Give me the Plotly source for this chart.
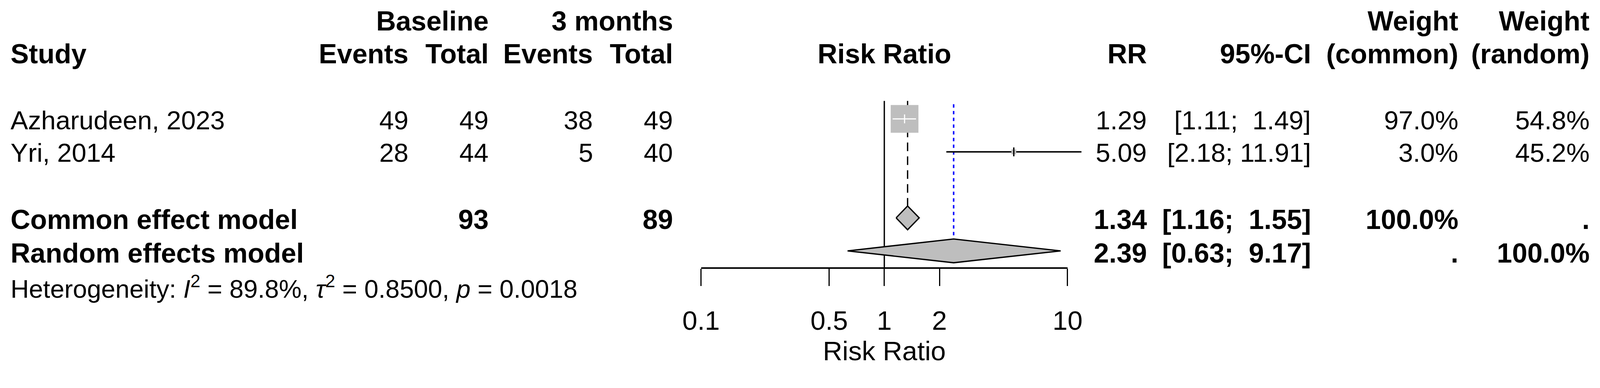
import numpy as np
import plotly.graph_objects as go

# ---------------- data ----------------
studies = ["Azharudeen, 2023", "Yri, 2014"]
base_events = [49, 28]
base_total = [49, 44]
m3_events = [38, 5]
m3_total = [49, 40]
rr = [1.29, 5.09]
ci_lo = [1.11, 2.18]
ci_hi = [1.49, 11.91]
w_common = [97.0, 3.0]
w_random = [54.8, 45.2]

common_label = "Common effect model"
random_label = "Random effects model"
common_est = [1.34, 1.16, 1.55]
random_est = [2.39, 0.63, 9.17]
total_base = 93
total_m3 = 89
het_i2 = "89.8%"
het_tau2 = "0.8500"
het_p = "0.0018"

tick_vals = [0.1, 0.5, 1, 2, 10]
tick_text = ["0.1", "0.5", "1", "2", "10"]

# ---------------- layout geometry (reference pixel units) ----------------
W, H = 4270, 993                  # reference picture size
CSS_W = 4096                      # browser viewport width in CSS px
K = CSS_W / W                     # CSS px per reference px
CSS_H = round(H * K)
X01, DEC = 1871.0, 489.0          # pixel of RR=0.1 and pixels per decade
Y0, RH = 53.0, 88.0               # pixel of row 0 and row height
AXIS_PX = 714.0                   # pixel row of the RR axis line

def prow(px):
    return (px - Y0) / RH

def s(v):
    return v * K

study_rows = [3, 4]
common_row, random_row = 6, 7
FONT = "Liberation Sans, Arial, sans-serif"
GREY = "#BEBEBE"
LW = s(3.5)

fig = go.Figure()

# reference line at RR = 1
fig.add_trace(go.Scatter(x=[1, 1], y=[prow(269), prow(AXIS_PX)], mode="lines",
                         line=dict(color="black", width=LW), hoverinfo="skip"))
# common effect dashed line
fig.add_trace(go.Scatter(x=[common_est[0]] * 2, y=[prow(269), common_row - 0.36], mode="lines",
                         line=dict(color="black", width=LW, dash=f"{s(23):.1f}px,{s(14):.1f}px"),
                         hoverinfo="skip"))
# random effects dotted blue line
fig.add_trace(go.Scatter(x=[random_est[0]] * 2, y=[prow(278), random_row - 0.36], mode="lines",
                         line=dict(color="#0000FF", width=s(4), dash=f"{s(9):.1f}px,{s(9):.1f}px"),
                         hoverinfo="skip"))

# study squares + CIs
for i in range(len(studies)):
    r = study_rows[i]
    side = 74 * np.sqrt(w_common[i] / max(w_common))
    inside = side >= 40
    if not inside:
        fig.add_trace(go.Scatter(x=[ci_lo[i], ci_hi[i]], y=[r, r], mode="lines",
                                 line=dict(color="black", width=s(4)), hoverinfo="skip"))
    fig.add_trace(go.Scatter(x=[rr[i]], y=[r], mode="markers",
                             marker=dict(symbol="square", size=s(side), color=GREY,
                                         line=dict(width=0)), hoverinfo="skip"))
    col = "white" if inside else "black"
    if inside:
        fig.add_trace(go.Scatter(x=[ci_lo[i], ci_hi[i]], y=[r, r], mode="lines",
                                 line=dict(color=col, width=s(3)), hoverinfo="skip"))
    fig.add_trace(go.Scatter(x=[rr[i], rr[i]], y=[r - 0.135, r + 0.135], mode="lines",
                             line=dict(color=col, width=s(3) if inside else LW), hoverinfo="skip"))

# diamonds
for est, row in [(common_est, common_row), (random_est, random_row)]:
    m, lo, hi = est
    fig.add_trace(go.Scatter(x=[lo, m, hi, m, lo], y=[row, row - 0.36, row, row + 0.36, row],
                             mode="lines", fill="toself", fillcolor=GREY,
                             line=dict(color="black", width=LW), hoverinfo="skip"))

# ---------------- text table ----------------
ann = []
def txt(px_x, row, t, bold=False, anchor="right", size=70):
    if bold:
        t = "<b>" + t + "</b>"
        size = 73
    ann.append(dict(x=px_x / W, xref="paper", y=row, yref="y", text=t, showarrow=False,
                    xanchor=anchor, yanchor="middle", borderpad=0,
                    font=dict(family=FONT, size=s(size), color="black")))

C_STUDY, C_E1, C_T1, C_E2, C_T2 = 27, 1091, 1305, 1584, 1797
C_RR, C_CI, C_WC, C_WR = 3062, 3500, 3893, 4243
C_PLOT = X01 + DEC

h0, h1 = prow(56), prow(144)
txt(C_T1, h0, "Baseline", True)
txt(C_T2, h0, "3 months", True)
txt(C_WC, h0, "Weight", True)
txt(C_WR, h0, "Weight", True)
txt(C_STUDY, h1, "Study", True, "left")
txt(C_E1, h1, "Events", True)
txt(C_T1, h1, "Total", True)
txt(C_E2, h1, "Events", True)
txt(C_T2, h1, "Total", True)
txt(C_PLOT, h1, "Risk Ratio", True, "center")
txt(C_RR, h1, "RR", True)
txt(C_CI, h1, "95%-CI", True)
txt(C_WC, h1, "(common)", True)
txt(C_WR, h1, "(random)", True)

def fmt_ci(lo, hi, width=5):
    a = f"{lo:.2f}"
    b = f"{hi:.2f}"
    pad = "\u00a0" * (width - len(b))
    return f"[{a}; {pad}{b}]"

text_px = [320, 407]
for i in range(len(studies)):
    r = prow(text_px[i])
    txt(C_STUDY, r, studies[i], anchor="left")
    txt(C_E1, r, str(base_events[i]))
    txt(C_T1, r, str(base_total[i]))
    txt(C_E2, r, str(m3_events[i]))
    txt(C_T2, r, str(m3_total[i]))
    txt(C_RR, r, f"{rr[i]:.2f}")
    txt(C_CI, r, fmt_ci(ci_lo[i], ci_hi[i]))
    txt(C_WC, r, f"{w_common[i]:.1f}%")
    txt(C_WR, r, f"{w_random[i]:.1f}%")

rc = prow(586)
txt(C_STUDY, rc, common_label, True, "left")
txt(C_T1, rc, str(total_base), True)
txt(C_T2, rc, str(total_m3), True)
txt(C_RR, rc, f"{common_est[0]:.2f}", True)
txt(C_CI, rc, fmt_ci(common_est[1], common_est[2]), True)
txt(C_WC, rc, "100.0%", True)
txt(C_WR, rc, ".", True)

rr_ = prow(675)
txt(C_STUDY, rr_, random_label, True, "left")
txt(C_RR, rr_, f"{random_est[0]:.2f}", True)
txt(C_CI, rr_, fmt_ci(random_est[1], random_est[2]), True)
txt(C_WC, rr_, ".", True)
txt(C_WR, rr_, "100.0%", True)

het = (f"Heterogeneity: <i>I</i><sup>2</sup> = {het_i2}, <i>\u03c4</i><sup>2</sup> = {het_tau2}, "
       f"<i>p</i> = {het_p}")
txt(C_STUDY, prow(766), het, anchor="left", size=68)

# ---------------- axes ----------------
lx0 = -1 - X01 / DEC
lx1 = -1 + (W - X01) / DEC
y_bottom = (H - Y0) / RH
y_top = -Y0 / RH
ax_dom0 = (H - (AXIS_PX - 1.5)) / H

fig.update_layout(
    template="none",
    width=CSS_W, height=CSS_H,
    margin=dict(l=0, r=0, t=0, b=0, pad=0),
    paper_bgcolor="white", plot_bgcolor="rgba(0,0,0,0)",
    showlegend=False,
    annotations=ann,
    xaxis=dict(type="log", range=[lx0, lx1], domain=[0, 1], visible=False, fixedrange=True),
    yaxis=dict(range=[y_bottom, y_top], domain=[0, 1], visible=False, fixedrange=True),
    xaxis2=dict(type="log", range=[-1, 1], domain=[X01 / W, (X01 + 2 * DEC) / W], anchor="y2",
                showline=True, linecolor="black", linewidth=s(4), mirror=False,
                ticks="outside", ticklen=round(s(46)), tickwidth=LW, tickcolor="black",
                ticklabelstandoff=int(round(s(30))),
                tickvals=tick_vals, ticktext=tick_text, showgrid=False, zeroline=False,
                tickfont=dict(family=FONT, size=s(72), color="black"),
                title=dict(text="Risk Ratio", font=dict(family=FONT, size=s(72), color="black"),
                           standoff=int(round(s(14))))),
    yaxis2=dict(domain=[ax_dom0, ax_dom0 + 0.05], range=[0, 1], visible=False, fixedrange=True),
)
# invisible trace to activate the axis subplot
fig.add_trace(go.Scatter(x=[1], y=[0.5], xaxis="x2", yaxis="y2", mode="markers",
                         marker=dict(opacity=0), hoverinfo="skip"))

fig.write_html("out.html", config={"displayModeBar": False},
               post_script="document.body.style.margin='0px';document.body.style.overflow='hidden';")
